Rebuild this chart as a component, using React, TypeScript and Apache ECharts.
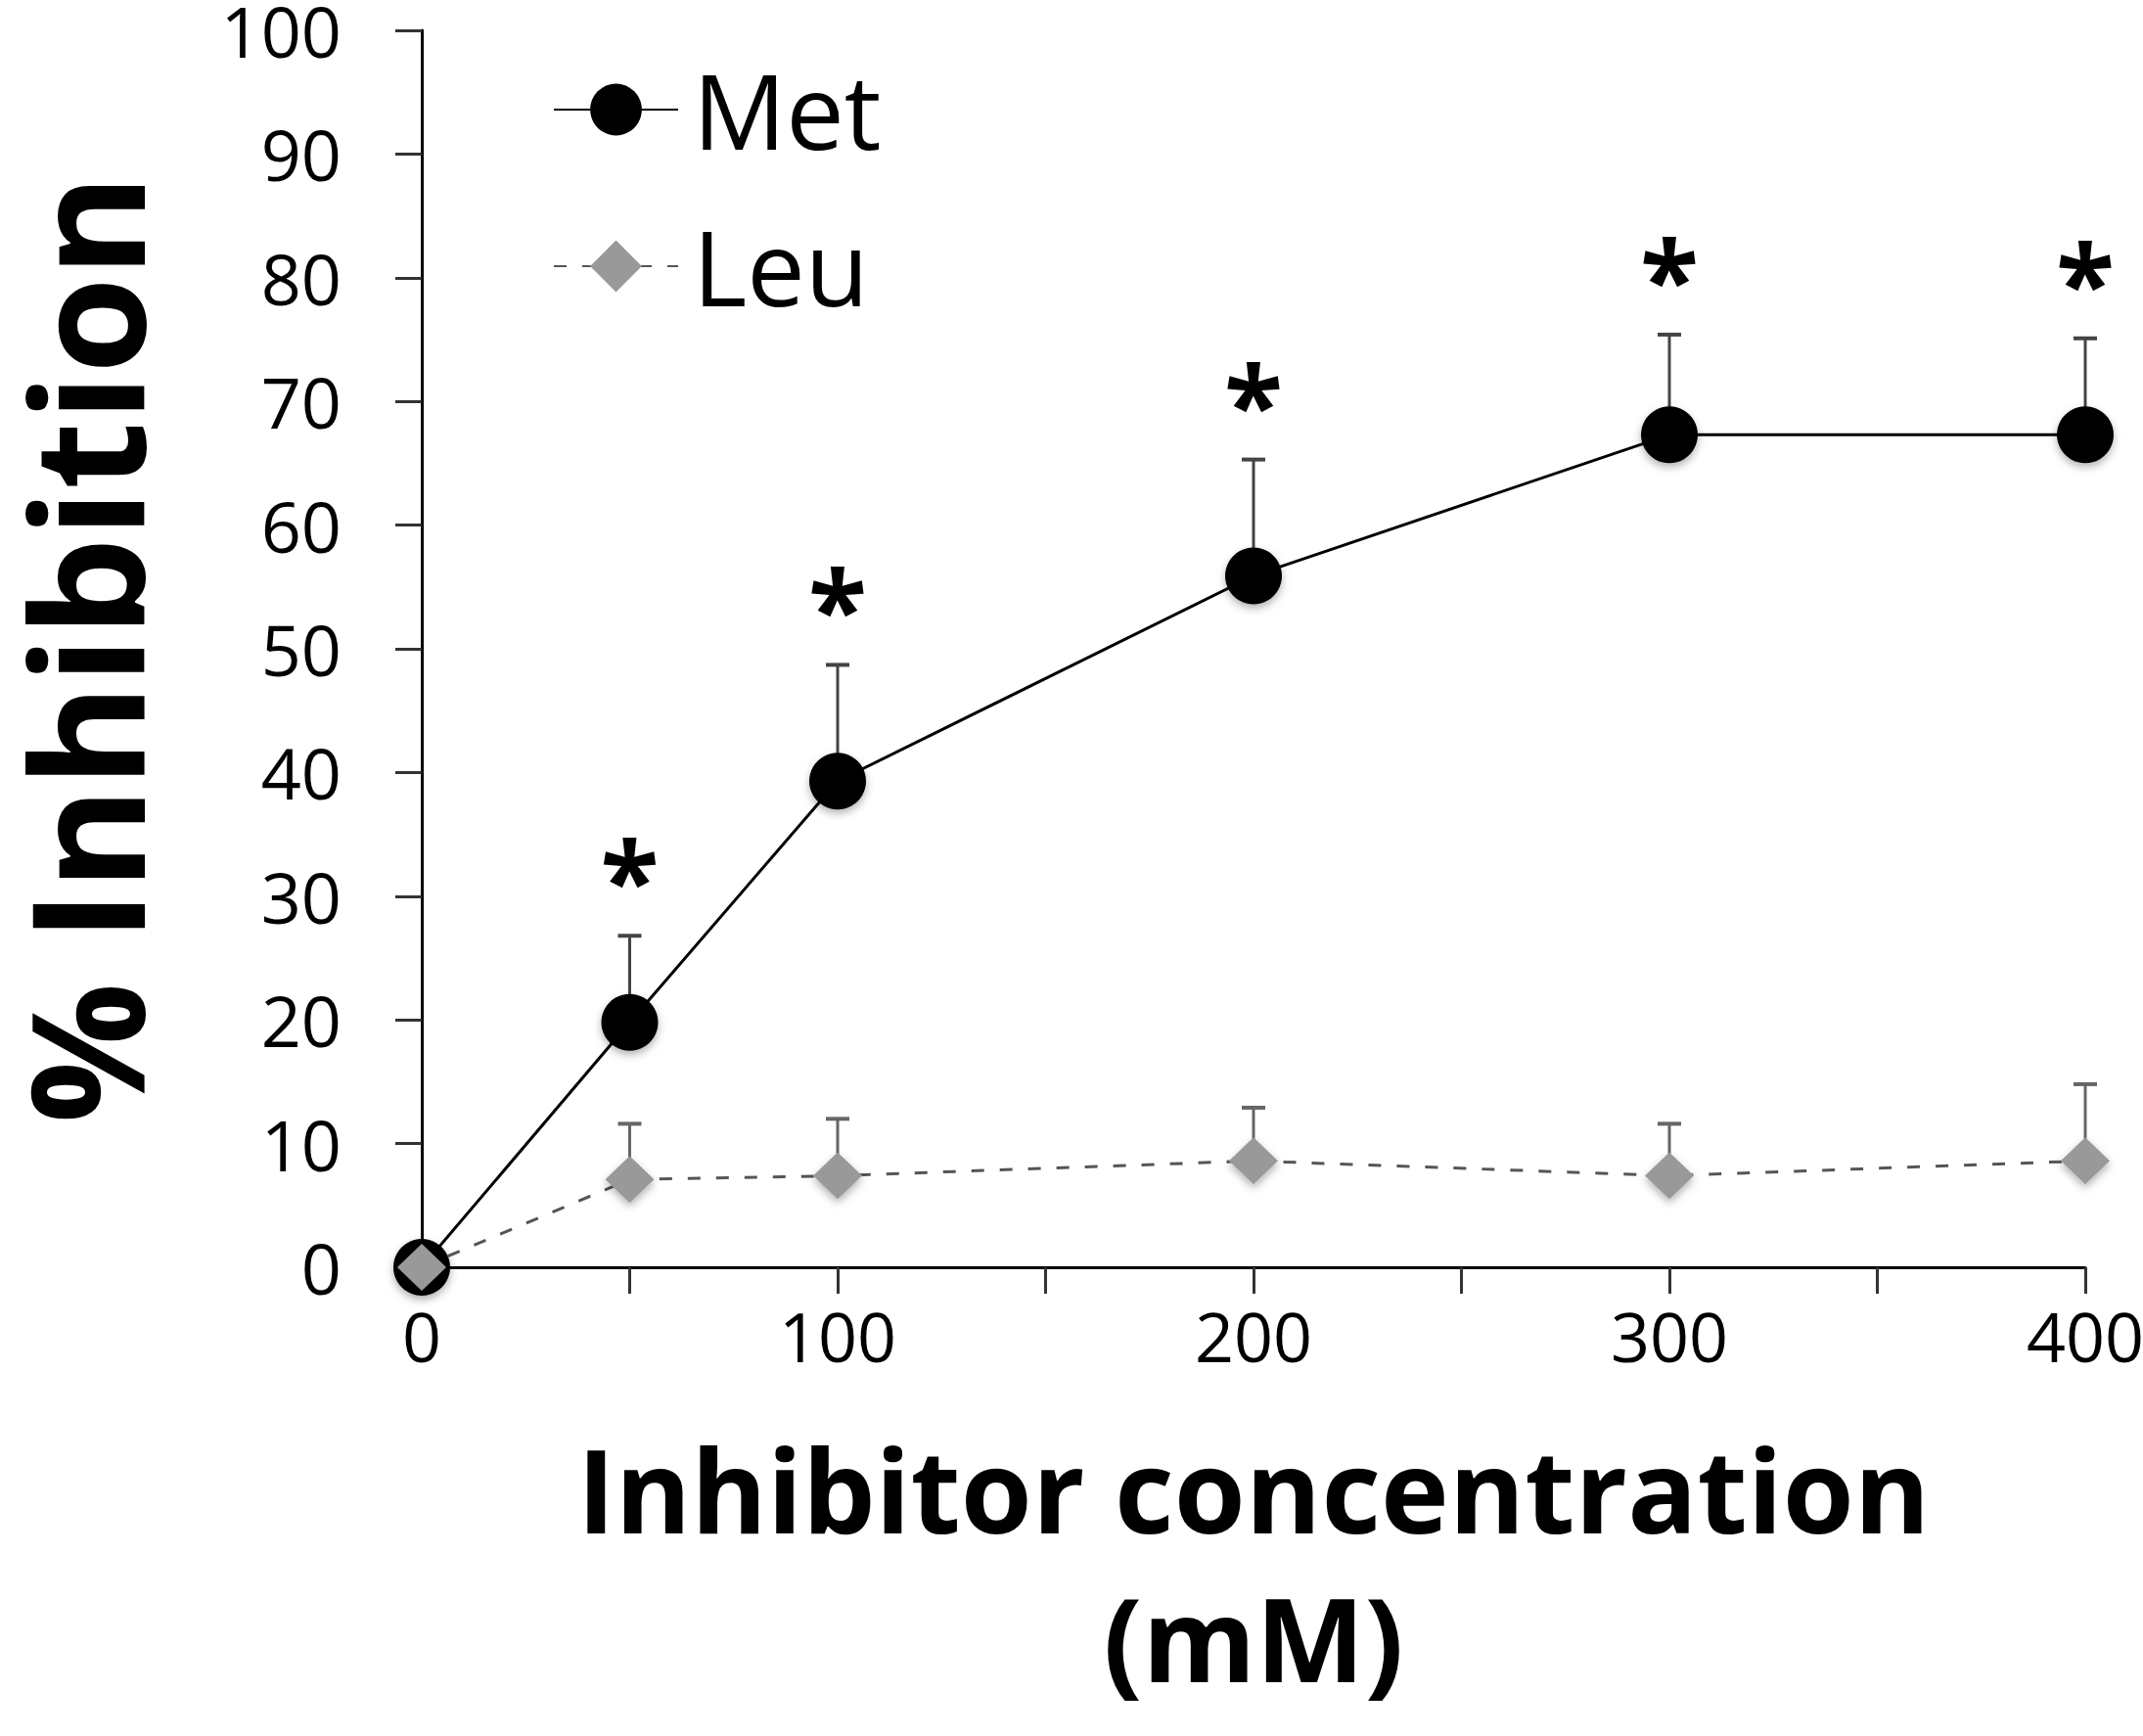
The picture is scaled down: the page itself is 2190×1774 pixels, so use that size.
import React, { useEffect, useRef } from "react";
import * as echarts from "echarts";

// ---- data ----
const concentrations = [0, 50, 100, 200, 300, 400];
const metValues = [0, 19.8, 39.3, 55.9, 67.3, 67.3];
const metErrors = [0, 7.0, 9.4, 9.4, 8.1, 7.8];
const leuValues = [0, 7.1, 7.4, 8.6, 7.4, 8.6];
const leuErrors = [0, 4.5, 4.6, 4.3, 4.2, 6.2];
const metSignificant = [false, true, true, true, true, true];
const seriesNames = ["Met", "Leu"];
const xTitle = "Inhibitor concentration\n(mM)";
const yTitle = "% Inhibition";

const FONT = "'Open Sans', 'Noto Sans', sans-serif";

function errorRenderer(color: string, withStar: boolean) {
  return (params: any, api: any) => {
    const x = api.value(0);
    const y = api.value(1);
    const e = api.value(2);
    const sig = api.value(3);
    const base = api.coord([x, y]);
    const top = api.coord([x, y + e]);
    const children: any[] = [];
    if (e > 0) {
      children.push({
        type: "line",
        shape: { x1: base[0], y1: base[1], x2: top[0], y2: top[1] },
        style: { stroke: color, lineWidth: 3 },
      });
      children.push({
        type: "line",
        shape: { x1: top[0] - 12, y1: top[1], x2: top[0] + 12, y2: top[1] },
        style: { stroke: color, lineWidth: 4 },
      });
    }
    if (withStar && sig) {
      children.push({
        type: "text",
        x: top[0],
        y: top[1] - 60,
        style: {
          text: "*",
          fontSize: 110,
          fontWeight: "bold",
          fontFamily: FONT,
          fill: "#000",
          align: "center",
          verticalAlign: "middle",
        },
      });
    }
    return { type: "group", children };
  };
}

export default function App() {
  const ref = useRef<HTMLDivElement>(null);
  useEffect(() => {
    if (!ref.current) return;
    const chart = echarts.init(ref.current, null, { renderer: "svg" });
    const metData = concentrations.map((c, i) => [c, metValues[i]]);
    const leuData = concentrations.map((c, i) => [c, leuValues[i]]);
    const metErr = concentrations.map((c, i) => [c, metValues[i], metErrors[i], metSignificant[i] ? 1 : 0]);
    const leuErr = concentrations.map((c, i) => [c, leuValues[i], leuErrors[i], 0]);
    const shadow = { shadowBlur: 8, shadowColor: "rgba(0,0,0,0.3)", shadowOffsetY: 4 };
    chart.setOption({
      animation: false,
      backgroundColor: "#fff",
      grid: { left: 431, right: 59, top: 31, bottom: 479, outerBoundsMode: "none", containLabel: false },
      legend: {
        orient: "vertical",
        left: 560,
        top: 54,
        itemWidth: 127,
        itemHeight: 66,
        itemGap: 54,
        data: seriesNames,
        textStyle: { fontSize: 106, fontFamily: FONT, color: "#000", padding: [0, 0, 0, 10] },
      },
      xAxis: {
        type: "value",
        min: 0,
        max: 400,
        interval: 50,
        name: xTitle,
        nameLocation: "middle",
        nameGap: 150,
        nameTextStyle: { fontSize: 118, fontWeight: "bold", fontFamily: FONT, color: "#000", lineHeight: 152 },
        axisLine: { show: true, lineStyle: { color: "#000", width: 3 } },
        axisTick: { show: true, length: 27, lineStyle: { color: "#333", width: 3 } },
        axisLabel: {
          margin: 40,
          fontSize: 70,
          lineHeight: 60,
          fontFamily: FONT,
          color: "#000",
          formatter: (v: number) => (v % 100 === 0 ? String(v) : ""),
        },
        splitLine: { show: false },
      },
      yAxis: {
        type: "value",
        min: 0,
        max: 100,
        interval: 10,
        name: yTitle,
        nameLocation: "middle",
        nameRotate: 90,
        nameGap: 280,
        nameTextStyle: { fontSize: 160, fontWeight: "bold", fontFamily: FONT, color: "#000", lineHeight: 130 },
        axisLine: { show: true, lineStyle: { color: "#000", width: 3 } },
        axisTick: { show: true, length: 27, lineStyle: { color: "#333", width: 3 } },
        axisLabel: { margin: 82, fontSize: 72, lineHeight: 56, fontFamily: FONT, color: "#000" },
        splitLine: { show: false },
      },
      series: [
        {
          type: "custom",
          name: "metErr",
          renderItem: errorRenderer("#444", true),
          data: metErr,
          z: 1,
          silent: true,
        },
        {
          type: "custom",
          name: "leuErr",
          renderItem: errorRenderer("#666", false),
          data: leuErr,
          z: 1,
          silent: true,
        },
        {
          type: "line",
          name: "Met",
          data: metData,
          symbol: "circle",
          symbolSize: 58,
          lineStyle: { color: "#000", width: 3 },
          itemStyle: { color: "#000", ...shadow },
          z: 3,
        },
        {
          type: "line",
          name: "Leu",
          data: leuData,
          symbol: "diamond",
          symbolSize: [50, 48],
          lineStyle: { color: "#555", width: 3, type: [13, 16] },
          itemStyle: { color: "#999", ...shadow },
          z: 4,
        },
      ],
    });
    return () => chart.dispose();
  }, []);
  return (
    <div
      ref={ref}
      style={{ position: "absolute", left: 0, top: 0, width: 2190, height: 1774, background: "#fff" }}
    />
  );
}
